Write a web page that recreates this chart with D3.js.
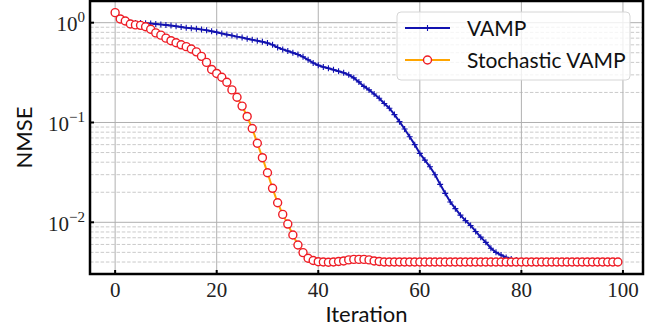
<!DOCTYPE html>
<html>
<head>
<meta charset="utf-8">
<script src="https://cdn.jsdelivr.net/npm/d3@7"></script>
<style>
  html, body { margin: 0; padding: 0; background: #fff; }
  .tick-lbl { font-family: "Liberation Serif", serif; fill: #222; }
  .ax-lbl { font-family: "Lato", "Open Sans", sans-serif; fill: #111; }
</style>
</head>
<body>
<div id="chart"></div>
<script>
// iteration index 0..99
const iterations = d3.range(100);

// NMSE per iteration
const vamp = [
  1.26, 1.09, 1.04, 1.0, 0.99, 0.99, 0.985, 0.98, 0.97, 0.96,
  0.95, 0.935, 0.92, 0.905, 0.89, 0.88, 0.87, 0.855, 0.84, 0.82,
  0.80, 0.78, 0.76, 0.745, 0.725, 0.71, 0.69, 0.675, 0.66, 0.645,
  0.625, 0.60, 0.565, 0.54, 0.52, 0.50, 0.48, 0.455, 0.425, 0.395,
  0.375, 0.36, 0.35, 0.338, 0.326, 0.315, 0.30, 0.28, 0.255, 0.23,
  0.212, 0.193, 0.175, 0.155, 0.139, 0.12, 0.102, 0.086, 0.072, 0.06,
  0.049, 0.042, 0.036, 0.030, 0.024, 0.0195, 0.016, 0.0137, 0.0118, 0.0104,
  0.0093, 0.0081, 0.0071, 0.0063, 0.0055, 0.0050, 0.0047, 0.00445, 0.0043, 0.0042,
  0.0041, 0.00405, 0.0040, 0.0040, 0.0040, 0.0040, 0.0040, 0.0040, 0.0040, 0.0040,
  0.0040, 0.0040, 0.0040, 0.0040, 0.0040, 0.0040, 0.0040, 0.0040, 0.0040, 0.0040
];

const stochVamp = [
  1.26, 1.09, 1.04, 0.97, 0.95, 0.94, 0.91, 0.86, 0.79, 0.75,
  0.70, 0.66, 0.63, 0.60, 0.575, 0.545, 0.51, 0.46, 0.40, 0.34,
  0.31, 0.284, 0.253, 0.212, 0.179, 0.146, 0.115, 0.087, 0.062, 0.0444,
  0.0314, 0.0219, 0.0157, 0.0120, 0.0096, 0.00746, 0.00593, 0.00497, 0.00436, 0.00414,
  0.00403, 0.0040, 0.00398, 0.0040, 0.00405, 0.0041, 0.0042, 0.00425, 0.00425, 0.00425,
  0.0042, 0.0041, 0.00405, 0.0040, 0.0040, 0.0040, 0.0040, 0.0040, 0.0040, 0.0040,
  0.0040, 0.0040, 0.0040, 0.0040, 0.0040, 0.0040, 0.0040, 0.0040, 0.0040, 0.0040,
  0.0040, 0.0040, 0.0040, 0.0040, 0.0040, 0.0040, 0.0040, 0.0040, 0.0040, 0.0040,
  0.0040, 0.0040, 0.0040, 0.0040, 0.0040, 0.0040, 0.0040, 0.0040, 0.0040, 0.0040,
  0.0040, 0.0040, 0.0040, 0.0040, 0.0040, 0.0040, 0.0040, 0.0040, 0.0040, 0.0040
];

const xTicks = [0, 20, 40, 60, 80, 100];
const yTicks = [1, 0.1, 0.01];
const yTickExp = ["0", "\u22121", "\u22122"];
const seriesNames = ["VAMP", "Stochastic VAMP"];

const W = 651, H = 331;
const plot = { left: 90, right: 643, top: 1, bottom: 274 };

const svg = d3.select("#chart").append("svg")
  .attr("width", W).attr("height", H);

const x = d3.scaleLinear().domain([-4.95, 103.95]).range([plot.left, plot.right]);
const y = d3.scaleLog().domain([0.003034, 1.649]).range([plot.bottom, plot.top]);

// grid: minor y dashed, major solid
const minor = [];
[0.001, 0.01, 0.1, 1].forEach(d => { for (let k = 2; k <= 9; k++) minor.push(d * k); });
const yMinor = minor.filter(v => v > y.domain()[0] && v < y.domain()[1]);

const grid = svg.append("g");
grid.selectAll(".ymin").data(yMinor).enter().append("line")
  .attr("x1", plot.left).attr("x2", plot.right)
  .attr("y1", d => y(d)).attr("y2", d => y(d))
  .attr("stroke", "#bdbdbd").attr("stroke-width", 0.8)
  .attr("stroke-dasharray", "3.5,1.8");
grid.selectAll(".ymaj").data(yTicks).enter().append("line")
  .attr("x1", plot.left).attr("x2", plot.right)
  .attr("y1", d => y(d)).attr("y2", d => y(d))
  .attr("stroke", "#b0b0b0").attr("stroke-width", 1);
grid.selectAll(".xmaj").data(xTicks).enter().append("line")
  .attr("y1", plot.top).attr("y2", plot.bottom)
  .attr("x1", d => x(d)).attr("x2", d => x(d))
  .attr("stroke", "#b0b0b0").attr("stroke-width", 1);

svg.append("clipPath").attr("id", "clip").append("rect")
  .attr("x", plot.left).attr("y", plot.top)
  .attr("width", plot.right - plot.left).attr("height", plot.bottom - plot.top);

const lines = svg.append("g").attr("clip-path", "url(#clip)");
const lineMaker = vals => d3.line().x(i => x(i)).y(i => y(vals[i]))(iterations);

// VAMP: blue line with + markers
lines.append("path").attr("d", lineMaker(vamp))
  .attr("fill", "none").attr("stroke", "#1212b0").attr("stroke-width", 2);
lines.selectAll(".plus").data(iterations).enter().append("path")
  .attr("d", i => `M${x(i) - 3},${y(vamp[i])}h6M${x(i)},${y(vamp[i]) - 3}v6`)
  .attr("stroke", "#1212b0").attr("stroke-width", 1.1);

// Stochastic VAMP: orange line with hollow red circles
lines.append("path").attr("d", lineMaker(stochVamp))
  .attr("fill", "none").attr("stroke", "#ffa500").attr("stroke-width", 2);
lines.selectAll(".circ").data(iterations).enter().append("circle")
  .attr("cx", i => x(i)).attr("cy", i => y(stochVamp[i])).attr("r", 4)
  .attr("fill", "#fff").attr("stroke", "#ee1c25").attr("stroke-width", 1.4);

// frame
svg.append("rect")
  .attr("x", plot.left).attr("y", plot.top)
  .attr("width", plot.right - plot.left).attr("height", plot.bottom - plot.top)
  .attr("fill", "none").attr("stroke", "#000").attr("stroke-width", 2.5);

// ticks (inward)
svg.append("g").selectAll("line").data(xTicks).enter().append("line")
  .attr("x1", d => x(d)).attr("x2", d => x(d))
  .attr("y1", plot.bottom).attr("y2", plot.bottom - 4)
  .attr("stroke", "#000").attr("stroke-width", 2);
svg.append("g").selectAll("line").data(yTicks).enter().append("line")
  .attr("x1", plot.left).attr("x2", plot.left + 4)
  .attr("y1", d => y(d)).attr("y2", d => y(d))
  .attr("stroke", "#000").attr("stroke-width", 2);

// tick labels
svg.append("g").selectAll("text").data(xTicks).enter().append("text")
  .attr("class", "tick-lbl")
  .attr("x", d => x(d)).attr("y", 297)
  .attr("text-anchor", "middle").attr("font-size", 21)
  .text(d => d);

const yl = svg.append("g").selectAll("text").data(yTicks).enter().append("text")
  .attr("class", "tick-lbl")
  .attr("x", 85).attr("y", d => y(d) + 8.5)
  .attr("text-anchor", "end").attr("font-size", 21);
yl.append("tspan").text("10");
yl.append("tspan").attr("dy", -9).attr("font-size", 15).text((d, i) => yTickExp[i]);

// axis titles
svg.append("text").attr("class", "ax-lbl")
  .attr("x", (plot.left + plot.right) / 2).attr("y", 322)
  .attr("text-anchor", "middle").attr("font-size", 22)
  .text("Iteration");
svg.append("text").attr("class", "ax-lbl")
  .attr("transform", `translate(32,${(plot.top + plot.bottom) / 2}) rotate(-90)`)
  .attr("text-anchor", "middle").attr("font-size", 22)
  .text("NMSE");

// legend
const lg = svg.append("g");
lg.append("rect").attr("x", 397).attr("y", 12).attr("width", 233).attr("height", 68)
  .attr("rx", 4).attr("fill", "#fff").attr("fill-opacity", 0.8)
  .attr("stroke", "#d6d6d6").attr("stroke-width", 1);
const rows = [28, 60];
lg.append("line").attr("x1", 405).attr("x2", 450).attr("y1", rows[0]).attr("y2", rows[0])
  .attr("stroke", "#1212b0").attr("stroke-width", 2);
lg.append("path").attr("d", `M424.5,${rows[0]}h6M427.5,${rows[0] - 3}v6`)
  .attr("stroke", "#1212b0").attr("stroke-width", 1.1);
lg.append("line").attr("x1", 405).attr("x2", 450).attr("y1", rows[1]).attr("y2", rows[1])
  .attr("stroke", "#ffa500").attr("stroke-width", 2);
lg.append("circle").attr("cx", 427.5).attr("cy", rows[1]).attr("r", 4)
  .attr("fill", "#fff").attr("stroke", "#ee1c25").attr("stroke-width", 1.4);
lg.selectAll(".lt").data(seriesNames).enter().append("text")
  .attr("class", "ax-lbl")
  .attr("x", 467).attr("y", (d, i) => rows[i] + 8)
  .attr("font-size", 21)
  .text(d => d);
</script>
</body>
</html>
